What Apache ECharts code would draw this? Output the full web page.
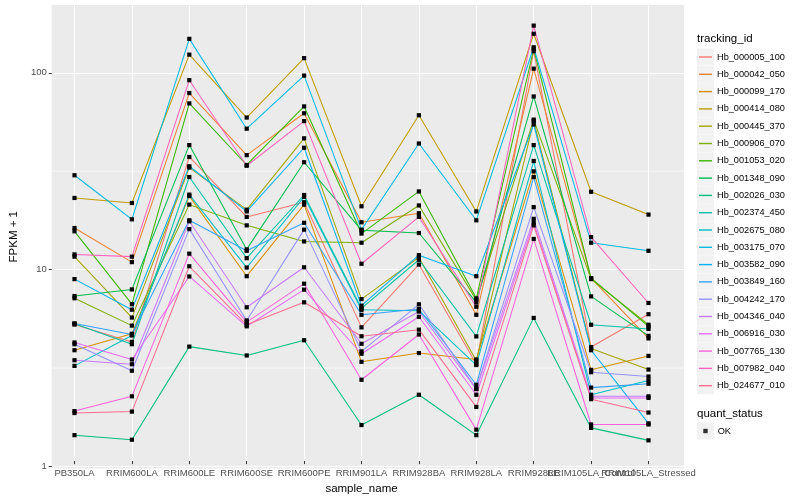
<!DOCTYPE html>
<html><head><meta charset="utf-8">
<script src="https://cdn.jsdelivr.net/npm/echarts@6/dist/echarts.min.js"></script>
<style>html,body{margin:0;padding:0;background:#fff}#c{width:800px;height:500px}</style>
</head><body><div id="c"></div>
<script>
// ---- data ----
const categories = ['PB350LA','RRIM600LA','RRIM600LE','RRIM600SE','RRIM600PE','RRIM901LA','RRIM928BA','RRIM928LA','RRIM928LE','RRIM105LA_Control','RRIM105LA_Stressed'];
const trackingIds = ['Hb_000005_100','Hb_000042_050','Hb_000099_170','Hb_000414_080','Hb_000445_370','Hb_000906_070','Hb_001053_020','Hb_001348_090','Hb_002026_030','Hb_002374_450','Hb_002675_080','Hb_003175_070','Hb_003582_090','Hb_003849_160','Hb_004242_170','Hb_004346_040','Hb_006916_030','Hb_007765_130','Hb_007982_040','Hb_024677_010'];
const v_000005_100 = [4.95, 4.03, 36.3, 17.8, 21.2, 4.79, 10.1, 3.10, 127.6, 3.79, 5.6];
const v_000042_050 = [15.6, 10.4, 77.6, 37.1, 61.0, 16.7, 18.6, 5.56, 103.7, 8.6, 4.20];
const v_000099_170 = [3.65, 4.44, 22.8, 8.8, 20.6, 3.18, 3.53, 3.27, 30.6, 2.89, 3.41];
const v_000414_080 = [22.3, 21.0, 122.5, 58.0, 117.5, 20.2, 59.6, 19.0, 157, 24.0, 18.3];
const v_000445_370 = [11.1, 5.38, 32.0, 19.4, 45.3, 6.7, 11.0, 3.22, 55.6, 3.73, 2.90];
const v_000906_070 = [6.77, 4.89, 20.6, 16.1, 13.3, 13.1, 20.4, 6.62, 56.6, 8.5, 4.94];
const v_001053_020 = [15.0, 6.31, 68.6, 33.0, 66.2, 14.6, 24.1, 6.76, 131, 8.6, 4.85];
const v_001348_090 = [6.95, 7.52, 41.8, 12.1, 34.1, 15.2, 14.7, 6.45, 74.5, 6.92, 4.33];
const v_002026_030 = [1.33, 1.26, 3.81, 3.43, 4.11, 1.50, 2.15, 1.33, 5.36, 1.45, 1.25];
const v_002374_450 = [5.0, 3.92, 28.6, 10.9, 23.1, 6.0, 10.7, 4.30, 41.8, 4.94, 4.70];
const v_002675_080 = [3.03, 4.35, 23.2, 9.75, 22.6, 5.9, 5.83, 3.06, 34.6, 2.15, 2.55];
const v_003175_070 = [29.2, 17.3, 147.8, 50.8, 95.5, 15.3, 42.6, 17.1, 133.7, 13.1, 11.9];
const v_003582_090 = [8.5, 5.91, 32.5, 19.0, 40.5, 6.2, 11.3, 8.8, 53.4, 3.65, 1.53];
const v_003849_160 = [5.02, 4.40, 17.1, 11.9, 16.6, 5.56, 5.96, 2.42, 28.6, 2.34, 2.45];
const v_004242_170 = [3.92, 2.86, 15.4, 5.2, 15.3, 3.6, 6.3, 2.31, 20.0, 2.81, 2.67];
const v_004346_040 = [3.24, 3.09, 16.9, 6.08, 9.78, 3.94, 5.78, 2.3, 17.4, 2.11, 2.11];
const v_006916_030 = [4.0, 3.27, 8.77, 4.85, 7.5, 3.5, 5.43, 2.15, 16.6, 2.07, 2.07];
const v_007765_130 = [1.77, 2.11, 11.5, 5.1, 8.05, 2.57, 4.4, 1.42, 13.7, 1.51, 1.51];
const v_007982_040 = [11.4, 11.1, 90.4, 32.7, 55.6, 10.2, 17.8, 6.12, 173, 14.0, 6.4];
const v_024677_010 = [1.73, 1.76, 9.9, 4.94, 6.45, 4.31, 4.66, 1.86, 16.1, 2.04, 1.74];
const yTickValues = [1, 10, 100];
const yMinorValues = [3.1623, 31.623];
const quantStatus = ['OK'];

// ---- styling ----
const palette = ['#F8766D','#EA8331','#D89000','#C09B00','#A3A500','#7CAE00','#39B600','#00BB4E','#00BF7D','#00C1A3','#00BFC4','#00BAE0','#00B0F6','#35A2FF','#9590FF','#C77CFF','#E76BF3','#FA62DB','#FF62BC','#FF6C91'];
const seriesValues = [v_000005_100,v_000042_050,v_000099_170,v_000414_080,v_000445_370,v_000906_070,v_001053_020,v_001348_090,v_002026_030,v_002374_450,v_002675_080,v_003175_070,v_003582_090,v_003849_160,v_004242_170,v_004346_040,v_006916_030,v_007765_130,v_007982_040,v_024677_010];
const FONT = 'Liberation Sans, Arial, sans-serif';
const P = {left: 40, right: 116, top: 5, bottom: 31.5};
const yMin = 0.977, yMax = 221;

const chart = echarts.init(document.getElementById('c'), null, {renderer: 'canvas'});

const series = [];
// minor horizontal gridlines across the full panel (grid 0, x from 0 to 1)
yMinorValues.forEach(v => {
  series.push({
    type: 'line', xAxisIndex: 0, yAxisIndex: 0, silent: true, z: 1,
    data: [[0, v], [1, v]], symbol: 'none', showSymbol: false,
    lineStyle: {color: '#ffffff', width: 0.6},
    emphasis: {disabled: true}, tooltip: {show: false}
  });
});
trackingIds.forEach((id, i) => {
  series.push({
    name: id, type: 'line', xAxisIndex: 1, yAxisIndex: 1, z: 3,
    data: seriesValues[i],
    symbol: 'rect', symbolSize: 4.2, showSymbol: true,
    lineStyle: {color: palette[i], width: 1.05},
    itemStyle: {color: '#000000'},
    emphasis: {disabled: true}
  });
});
series.push({name: quantStatus[0], type: 'scatter', xAxisIndex: 1, yAxisIndex: 1, data: []});

const keyRects = trackingIds.map((id, i) => ({
  type: 'rect', z: -10, silent: true,
  shape: {x: 697, y: 48.5 + 17.3 * i, width: 17, height: 17},
  style: {fill: '#F2F2F2'}
}));
keyRects.push({type: 'rect', z: -10, silent: true, shape: {x: 697, y: 422.5, width: 17, height: 17}, style: {fill: '#F2F2F2'}});

const option = {
  animation: false,
  backgroundColor: '#ffffff',
  textStyle: {fontFamily: FONT},
  grid: [
    {left: P.left, right: P.right, top: P.top, bottom: P.bottom, show: true, backgroundColor: '#EBEBEB', borderWidth: 0, containLabel: false},
    {left: 74.5, right: 151.5, top: P.top, bottom: P.bottom, show: false, containLabel: false}
  ],
  xAxis: [
    {gridIndex: 0, type: 'value', min: 0, max: 1, show: false},
    {gridIndex: 1, type: 'category', data: categories, boundaryGap: false,
     axisLine: {show: false},
     axisTick: {show: true, length: 3, lineStyle: {color: '#333333', width: 1}, alignWithLabel: true},
     axisLabel: {interval: 0, color: '#4D4D4D', fontSize: 9.5, margin: 7, fontFamily: FONT},
     splitLine: {show: true, lineStyle: {color: '#ffffff', width: 1.1}},
     name: 'sample_name', nameLocation: 'middle', nameGap: 20,
     nameTextStyle: {color: '#000000', fontSize: 11.5, fontFamily: FONT}}
  ],
  yAxis: [
    {gridIndex: 0, type: 'log', logBase: 10, min: yMin, max: yMax,
     axisLine: {show: false},
     axisTick: {show: true, length: 3, lineStyle: {color: '#333333', width: 1}, customValues: yTickValues},
     axisLabel: {color: '#4D4D4D', fontSize: 9.5, margin: 5, fontFamily: FONT, customValues: yTickValues,
       formatter: v => (yTickValues.some(t => Math.abs(t - v) < 1e-6 * t) ? String(Math.round(v)) : '')},
     splitLine: {show: true, lineStyle: {color: '#ffffff', width: 1.1}},
     name: 'FPKM + 1', nameLocation: 'middle', nameGap: 24, nameRotate: 90,
     nameTextStyle: {color: '#000000', fontSize: 11.5, fontFamily: FONT}},
    {gridIndex: 1, type: 'log', logBase: 10, min: yMin, max: yMax, show: false,
     splitLine: {show: false}}
  ],
  legend: [
    {orient: 'vertical', left: 699, top: 50, padding: 0, itemGap: 3.3,
     itemWidth: 13, itemHeight: 1.4, icon: 'rect', selectedMode: false,
     textStyle: {fontSize: 9.2, color: '#000000', fontFamily: FONT, lineHeight: 14},
     data: trackingIds.map((id, i) => ({name: id, icon: 'rect', itemStyle: {color: palette[i], borderWidth: 0}}))},
    {orient: 'vertical', left: 703.3, top: 424, padding: 0,
     itemWidth: 4.4, itemHeight: 4.4, selectedMode: false,
     textStyle: {fontSize: 9.2, color: '#000000', fontFamily: FONT, lineHeight: 14, padding: [0, 0, 0, 5]},
     data: [{name: quantStatus[0], icon: 'rect', itemStyle: {color: '#000000'}}]}
  ],
  graphic: keyRects.concat([
    {type: 'text', left: 697, top: 33, silent: true, style: {text: 'tracking_id', fontSize: 11.5, fill: '#000000', fontFamily: FONT}},
    {type: 'text', left: 697, top: 408, silent: true, style: {text: 'quant_status', fontSize: 11.5, fill: '#000000', fontFamily: FONT}}
  ]),
  series: series
};
chart.setOption(option);
</script></body></html>
